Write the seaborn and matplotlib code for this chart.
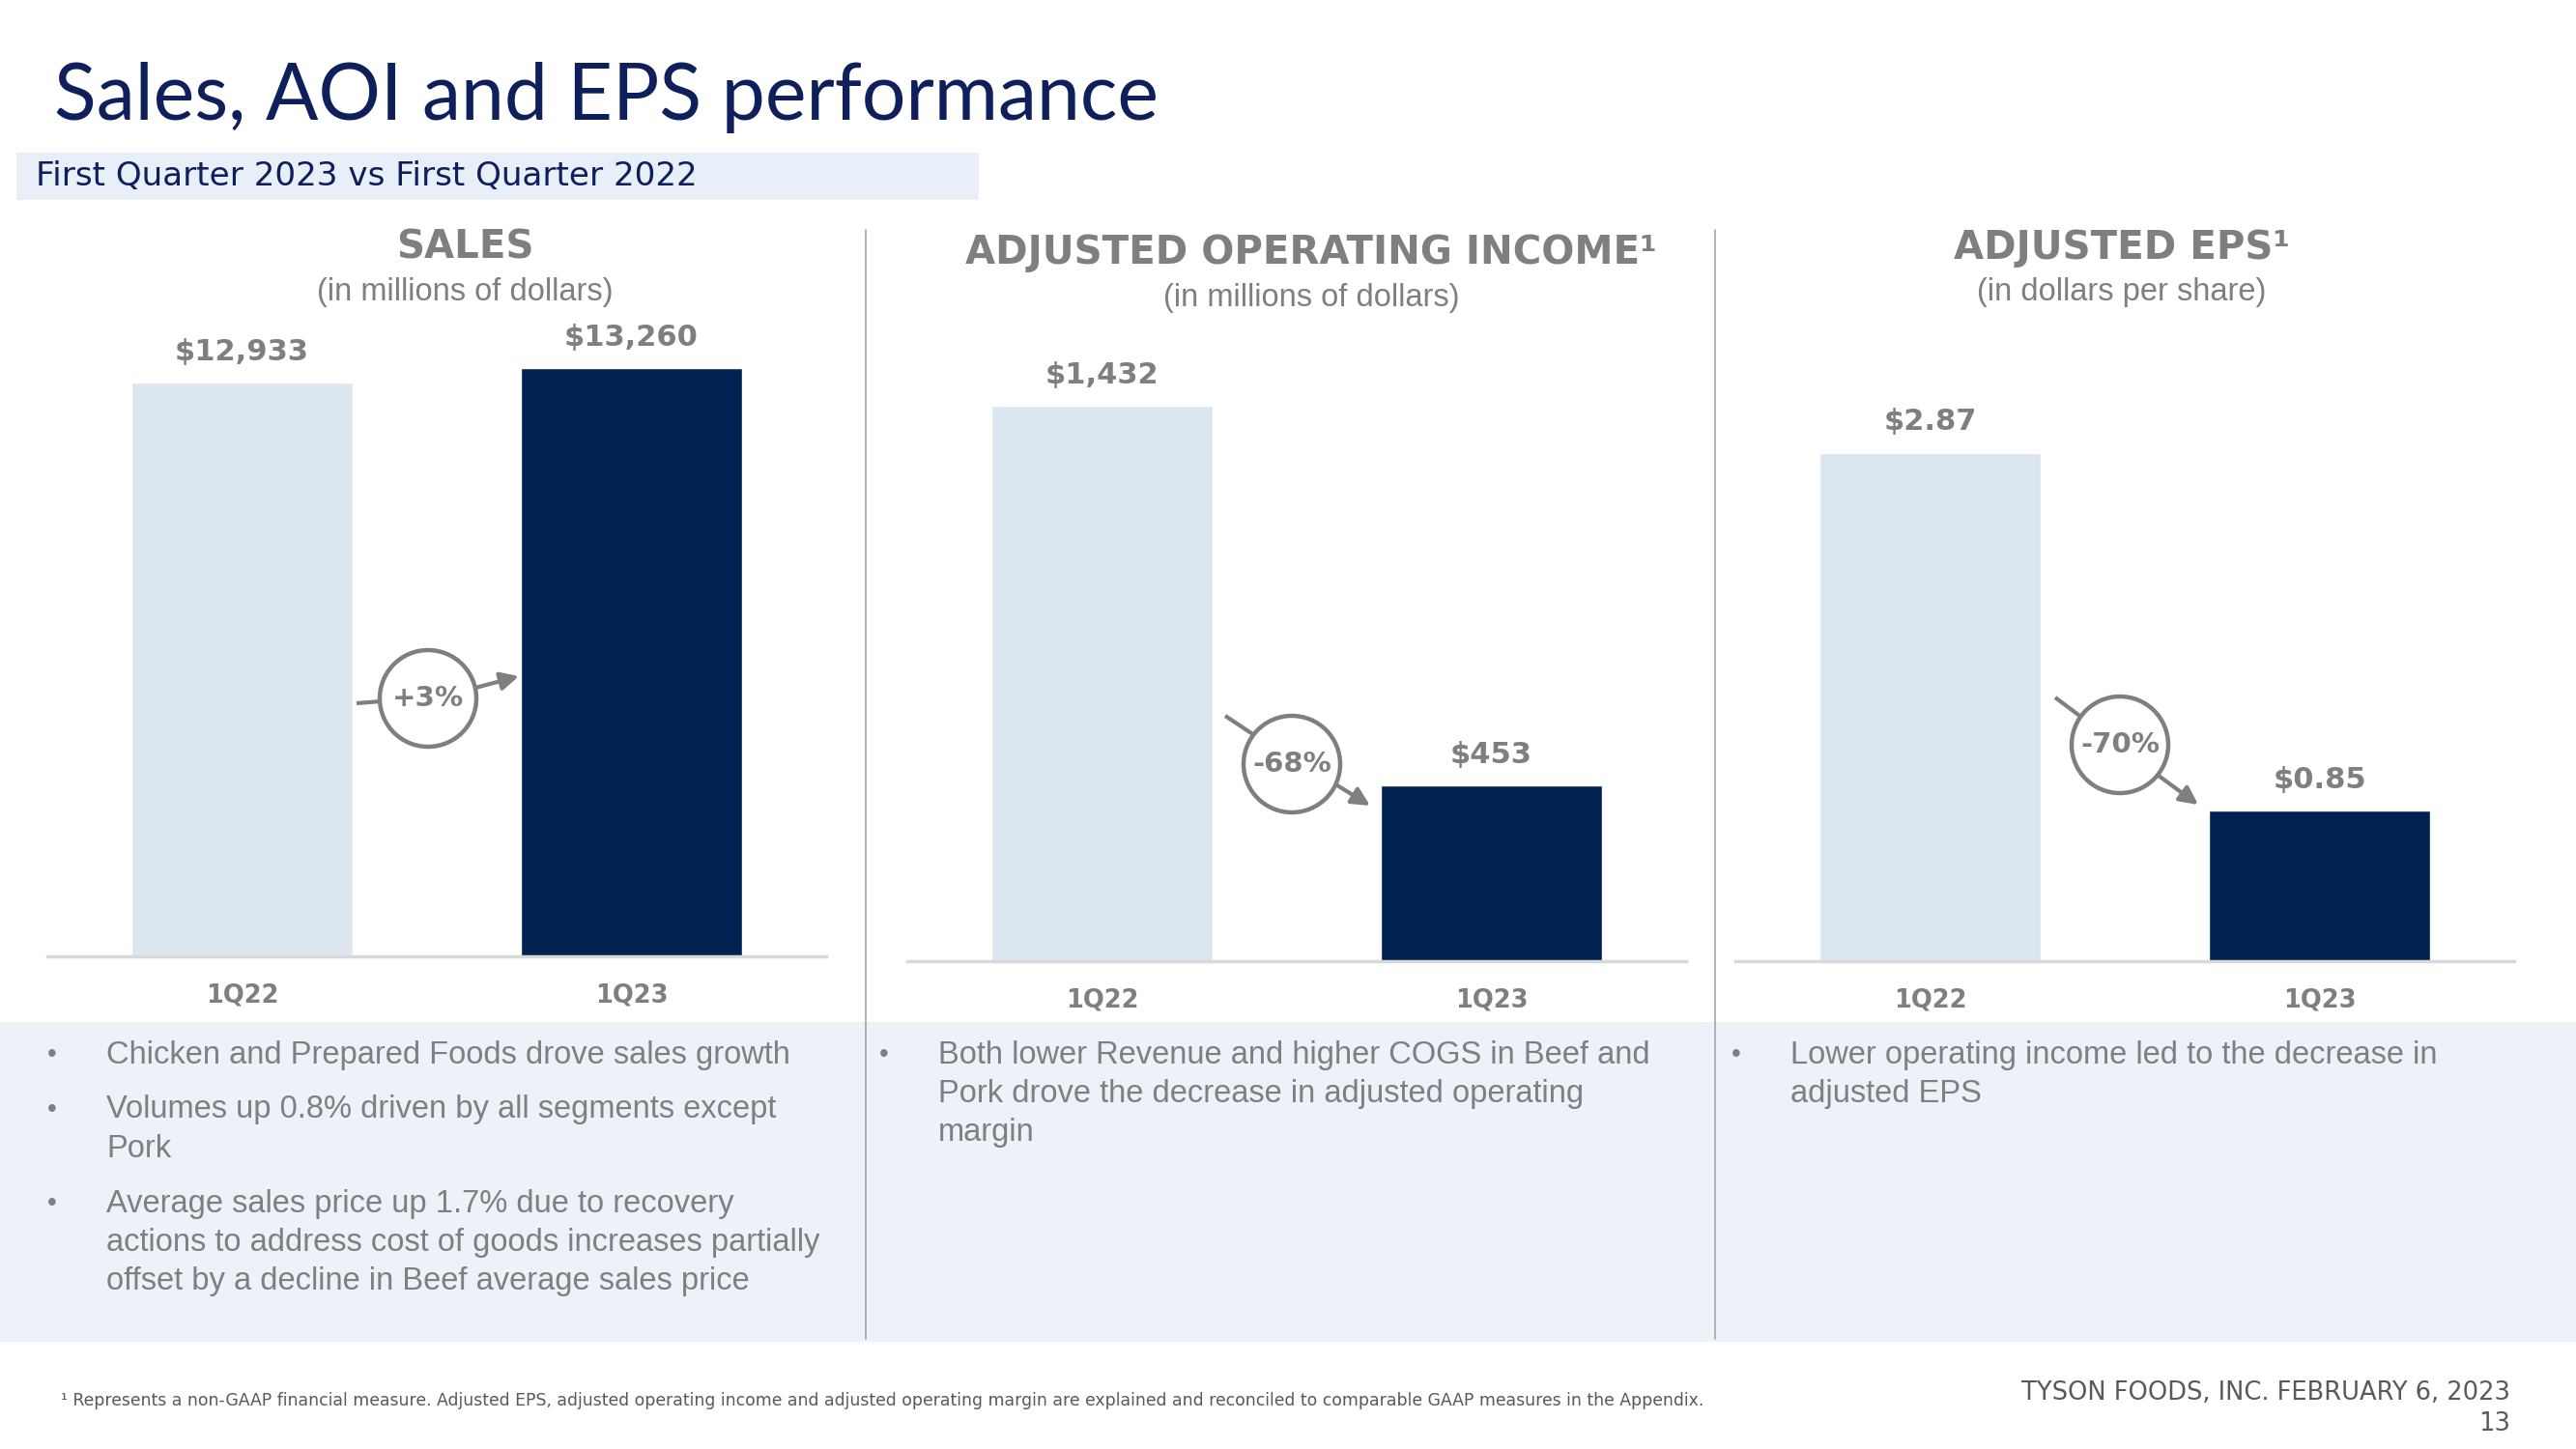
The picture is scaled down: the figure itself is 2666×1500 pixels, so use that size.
import pandas as pd
import matplotlib.pyplot as plt
from matplotlib.patches import Circle, Rectangle
import seaborn as sns

# data
quarters = ["1Q22", "1Q23"]
sales = [12933, 13260]
aoi = [1432, 453]
eps = [2.87, 0.85]

panel_titles = ["SALES", "ADJUSTED OPERATING INCOME\u00b9", "ADJUSTED EPS\u00b9"]
panel_units = ["(in millions of dollars)", "(in millions of dollars)", "(in dollars per share)"]

bullets_sales = [
    ["Chicken and Prepared Foods drove sales growth"],
    ["Volumes up 0.8% driven by all segments except", "Pork"],
    ["Average sales price up 1.7% due to recovery",
     "actions to address cost of goods increases partially",
     "offset by a decline in Beef average sales price"],
]
bullets_aoi = [
    ["Both lower Revenue and higher COGS in Beef and",
     "Pork drove the decrease in adjusted operating", "margin"],
]
bullets_eps = [
    ["Lower operating income led to the decrease in", "adjusted EPS"],
]

footnote = ("\u00b9 Represents a non-GAAP financial measure. Adjusted EPS, adjusted operating income and "
            "adjusted operating margin are explained and reconciled to comparable GAAP measures in the Appendix.")

W, H = 2666, 1500
NAVY = "#0E1F5B"
BAR_DARK = "#002352"
BAR_LIGHT = "#DCE6F1"
GREY = "#7F7F7F"

sns.set_theme(style="white")
plt.rcParams["font.family"] = ["Liberation Sans", "DejaVu Sans"]

fig = plt.figure(figsize=(W / 100, H / 100), dpi=100)

# overlay in pixel coordinates for the slide furniture
ov = fig.add_axes([0, 0, 1, 1], zorder=0)
ov.set_xlim(0, W)
ov.set_ylim(H, 0)
ov.axis("off")

ov.add_patch(Rectangle((17, 158), 996, 49, color="#E9EFF8", lw=0))
ov.add_patch(Rectangle((0, 1058), W, 331, color="#EDF1F8", lw=0))
for x in (896, 1775):
    ov.plot([x, x], [238, 1386], color="#A6A6A6", lw=1.2)

ov.text(56, 124, "Sales, AOI and EPS performance", fontsize=58, color=NAVY,
        family=["Lato", "DejaVu Sans"], va="baseline")
ov.text(37, 182, "First Quarter 2023 vs First Quarter 2022", fontsize=24.6, color=NAVY,
        family="DejaVu Sans", va="center")

panels = [
    dict(vals=sales, fmt=lambda v: f"${v:,.0f}", left=49, base=990, ymax=14370,
         head=(481, 257), unit_y=303, circ=(443, 723),
         lead=((369, 728), (394, 726)), arrow=((492, 712), (537, 700)),
         bullets=bullets_sales, bx=54, by=[1092, 1149, 1246]),
    dict(vals=aoi, fmt=lambda v: f"${v:,.0f}", left=939, base=995, ymax=1644,
         head=(1357, 262), unit_y=308, circ=(1337, 791),
         lead=((1268, 741), (1298, 761)), arrow=((1384, 813), (1418, 834)),
         bullets=bullets_aoi, bx=915, by=[1092]),
    dict(vals=eps, fmt=lambda v: f"${v:.2f}", left=1796, base=995, ymax=3.60,
         head=(2196, 257), unit_y=303, circ=(2194, 771),
         lead=((2127, 722), (2155, 743)), arrow=((2234, 803), (2275, 833)),
         bullets=bullets_eps, bx=1797, by=[1092]),
]

for p, title, unit in zip(panels, panel_titles, panel_units):
    ax = fig.add_axes([p["left"] / W, 1 - p["base"] / H, 806 / W, 660 / H], zorder=1)
    ax.patch.set_alpha(0)
    df = pd.DataFrame({"quarter": quarters, "value": p["vals"]})
    sns.barplot(data=df, x="quarter", y="value", hue="quarter",
                palette=[BAR_LIGHT, BAR_DARK], width=0.57, saturation=1,
                legend=False, ax=ax)
    ax.set_xlim(-0.5, 1.5)
    ax.set_ylim(0, p["ymax"])
    ax.set_xlabel("")
    ax.set_ylabel("")
    ax.set_yticks([])
    for s in ["top", "right", "left"]:
        ax.spines[s].set_visible(False)
    ax.spines["bottom"].set_color("#D9D9D9")
    ax.spines["bottom"].set_linewidth(2.5)
    ax.tick_params(axis="x", length=0, pad=20, labelsize=18.5, labelcolor=GREY)
    for lbl in ax.get_xticklabels():
        lbl.set_fontweight("bold")
        lbl.set_family("DejaVu Sans")
    for i, v in enumerate(p["vals"]):
        ax.annotate(p["fmt"](v), (i, v), xytext=(0, 23), textcoords="offset points",
                    ha="center", va="center", fontsize=22, fontweight="bold",
                    color=GREY, family="DejaVu Sans")

    # headings
    hx, hy = p["head"]
    ov.text(hx, hy, title, ha="center", va="center", fontsize=29, fontweight="bold",
            color=GREY, family="DejaVu Sans")
    ov.text(hx, p["unit_y"], unit, ha="center", va="center", fontsize=23.5, color=GREY)

    # change badge
    pct = (p["vals"][1] / p["vals"][0] - 1) * 100
    cx, cy = p["circ"]
    ov.add_patch(Circle((cx, cy), 50, facecolor="white", edgecolor=GREY, lw=3.2, zorder=3))
    ov.text(cx, cy, f"{pct:+.0f}%", ha="center", va="center", fontsize=21,
            fontweight="bold", color=GREY, family="DejaVu Sans", zorder=4)
    (x1, y1), (x2, y2) = p["lead"]
    ov.plot([x1, x2], [y1, y2], color=GREY, lw=3, solid_capstyle="butt", zorder=2)
    (x1, y1), (x2, y2) = p["arrow"]
    ov.annotate("", xy=(x2, y2), xytext=(x1, y1),
                arrowprops=dict(arrowstyle="-|>", color=GREY, lw=3, mutation_scale=28,
                                shrinkA=0, shrinkB=0), zorder=2)

    # bullets
    for group, y0 in zip(p["bullets"], p["by"]):
        ov.text(p["bx"], y0, "\u2022", ha="center", va="center", fontsize=20, color=GREY)
        for j, line in enumerate(group):
            ov.text(p["bx"] + 56, y0 + j * 40, line, va="center", fontsize=23.5, color=GREY)

ov.text(63, 1450, footnote, va="center", fontsize=12.4, color="#595959", family="DejaVu Sans")
ov.text(2598, 1442, "TYSON FOODS, INC. FEBRUARY 6, 2023", ha="right", va="center",
        fontsize=18.5, color="#595959", family="DejaVu Sans")
ov.text(2598, 1474, "13", ha="right", va="center", fontsize=18.5, color="#595959",
        family="DejaVu Sans")

fig.savefig("out.png", dpi=100)
